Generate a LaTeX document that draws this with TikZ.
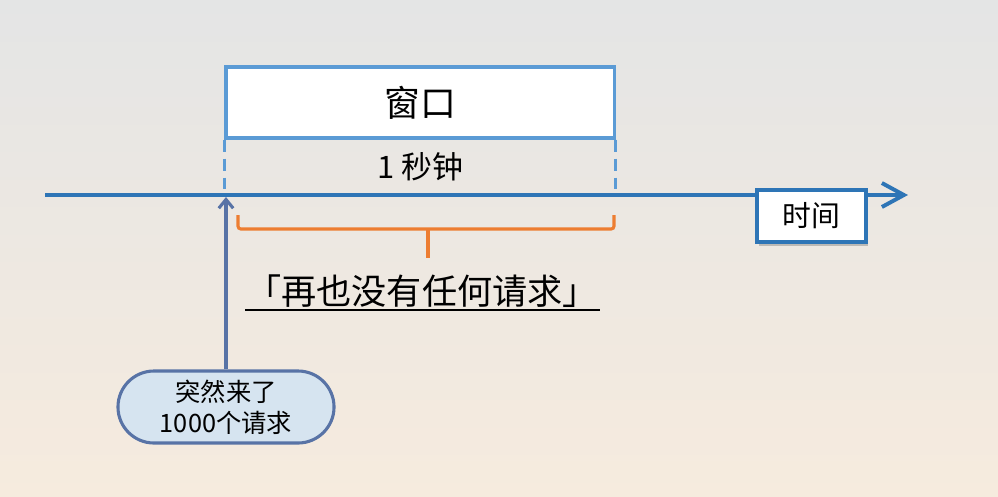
\documentclass[tikz,border=0pt]{standalone}
\usepackage{fontspec}
\setmainfont{Noto Sans CJK SC}
\usetikzlibrary{arrows.meta,positioning,shadows}

\definecolor{winblue}{HTML}{5B9BD5}
\definecolor{axisblue}{HTML}{2E75B6}
\definecolor{bracecol}{HTML}{ED7D31}
\definecolor{burstline}{HTML}{5873A6}
\definecolor{burstfill}{HTML}{D6E4F0}
\definecolor{bgtop}{HTML}{E4E5E5}
\definecolor{bgbottom}{HTML}{F6EBDE}

\tikzset{
  winbox/.style={draw=winblue, line width=2.2pt, fill=white, minimum width=9.7cm, minimum height=1.775cm, font=\fontsize{25.5}{29}\selectfont},
  timebox/.style={draw=axisblue, line width=3.4pt, fill=white, minimum width=2.725cm, minimum height=1.3cm, font=\fontsize{20.5}{24}\selectfont, drop shadow={shadow xshift=1.5pt, shadow yshift=-2.5pt, opacity=.45}},
  burstbox/.style={draw=burstline, line width=2.2pt, fill=burstfill, minimum width=5.4cm, minimum height=1.8cm, rounded corners=0.9cm, align=center, font=\fontsize{18}{22}\selectfont},
  axis/.style={draw=axisblue, line width=2.8pt, -{Straight Barb[length=0.55cm, width=0.6cm, line width=2.8pt]}},
  dashlink/.style={draw=winblue, line width=2.4pt, dash pattern=on 8.5pt off 5pt},
  brace/.style={draw=bracecol, line width=2.2pt, rounded corners=2pt},
  reqarrow/.style={draw=burstline, line width=2.2pt, -{Straight Barb[length=0.22cm, width=0.36cm, line width=2.2pt]}}
}

\begin{document}
\begin{tikzpicture}[x=0.025cm, y=-0.025cm]
  % background
  \useasboundingbox (0,0) rectangle (998,496);
  \shade[top color=bgtop, bottom color=bgbottom] (0,0) rectangle (998,496);

  % time axis
  \coordinate (tstart) at (45,195);
  \coordinate (tend) at (908,195);
  \draw[axis] (tstart) -- (tend);

  % window
  \node[winbox] (win) at (420,102.5) {窗口};
  \draw[dashlink] (win.south west) -- ++(0,52);
  \draw[dashlink] (win.south east) -- ++(0,52);
  \node[font=\fontsize{22}{26}\selectfont] (sec) at (420,167) {1 秒钟};

  \node[timebox] (time) at (811.5,216) {时间};

  % brace under the window
  \draw[brace] (238,215) -- (238,229) -- (614,229) -- (614,215);
  \draw[brace] (428,229) -- (428,258);
  \node[font=\fontsize{25}{29}\selectfont] (quiet) at (422,291) {「再也没有任何请求」};
  \draw[line width=0.8pt] (245,310) -- (600,310);

  % burst of requests
  \node[burstbox] (burst) at (226,407) {突然来了\\1000个请求};
  \coordinate (hit) at (226,197);
  \draw[reqarrow] (burst) -- (hit);
\end{tikzpicture}
\end{document}
